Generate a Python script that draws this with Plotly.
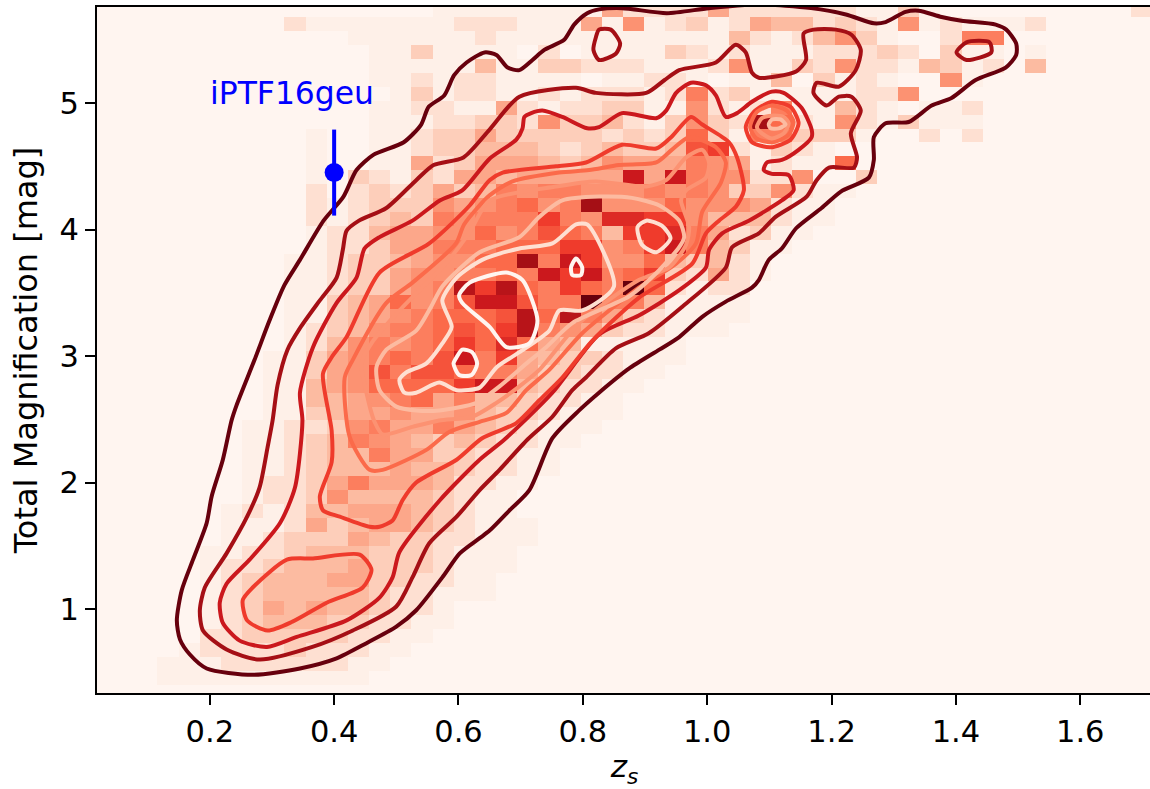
import plotly.graph_objects as go
import numpy as np

# 2-D histogram, one string per row from the top; one base-17 digit per cell
heat_rows = [
"0000000000 0000001111 1111522225 2222221131 0000000002",
"0000000002 1111111222 1115161231 2544232161 2111200000",
"0000000000 0011111121 1111111111 4212463100 2770000000",
"0000000000 0001131111 0201111321 2111222320 3110100000",
"0000000000 0001111141 1332221112 6113262214 3120400000",
"0000000000 0001121221 1110112210 1140312100 6100000000",
"0000000000 0000131221 1212221272 3111112260 0000000000",
"0000000000 0001122115 2122331162 1271142101 1200000000",
"0000000000 0001112233 2633421363 2e82162131 1100000000",
"0000000000 1001123353 3333232383 1773331002 0200000000",
"0000000000 1001123344 432343349a 2132100000 0000000000",
"0000000000 1001152355 5434655576 5121180000 0000000000",
"0000000000 1032132554 55555c5c76 6226003000 0000000000",
"0000000000 2023235347 6776667676 3362110000 0000000000",
"0000000000 2123336567 867e666866 6521100000 0000000000",
"0000000000 2123437677 7a76bbaa64 4421100000 0000000000",
"0000000000 1224556686 79874aab75 2311000000 0000000000",
"0000000000 1223557778 88aa67ac74 3110000000 0000000000",
"0000000001 1233456688 e7ca668434 2100000000 0000000000",
"0000000001 1233566778 7cac78a325 2100000000 0000000000",
"0000000001 123356 7dad 87a87g8212 2000000000 0000000000",
"0000000001 1345867 9cc 977g774111 1000000000 0000000000",
"0000000001 1345678889 d8d7532111 1000000000 0000000000",
"0000000001 2346778 98a d765322111 0000000000 0000000000",
"0000000001 2467678a8b 8541111100 0000000000 0000000000",
"0000000011 3567879c7a 5433211100 0000000000 0000000000",
"0000000011 3569799877 5332211000 0000000000 0000000000",
"0000000011 4568888acc 4322110000 0000000000 0000000000",
"0000000011 4456785744 3221100000 0000000000 0000000000",
"0000000011 3455655643 3211100000 0000000000 0000000000",
"0000000112 2367557543 2111000000 0000000000 0000000000",
"0000000112 3476543432 2110000000 0000000000 0000000000",
"0000000112 3447553322 1100000000 0000000000 0000000000",
"0000000112 3444544322 1100000000 0000000000 0000000000",
"0000000122 3575554221 1000000000 0000000000 0000000000",
"0000000122 3644443211 0000000000 0000000000 0000000000",
"0000001212 4455543211 0000000000 0000000000 0000000000",
"0000001112 5345543211 1000000000 0000000000 0000000000",
"0000001123 3354332211 1000000000 0000000000 0000000000",
"0000011223 4443332111 0000000000 0000000000 0000000000",
"0000012234 4453332111 0000000000 0000000000 0000000000",
"0000012344 4553322110 0000000000 0000000000 0000000000",
"0000012344 4443221110 0000000000 0000000000 0000000000",
"0000012354 5443221000 0000000000 0000000000 0000000000",
"0000012344 4332211000 0000000000 0000000000 0000000000",
"0000022333 3322110000 0000000000 0000000000 0000000000",
"0000122223 2221100000 0000000000 0000000000 0000000000",
"0001112222 2211000000 0000000000 0000000000 0000000000",
"0001111111 1110000000 0000000000 0000000000 0000000000",
"0000000000 0000000000 0000000000 0000000000 0000000000",
]
hist_x_left = 0.01378
hist_y_top = 5.787
hist_dx = 0.03403
hist_dy = 0.10988

reds = ["#fff5f0", "#fee0d2", "#fcbba1", "#fc9272", "#fb6a4a", "#ef3b2c", "#cb181d", "#a50f15", "#67000d"]
faint_stop = "#fef0e8"
level_colors = reds[::-1]

# Contours: (level index, z values, magnification values)
c1_z = [.269,.195,.168,.152,.147,.155,.173,.195,.203,.221,.235,.243,.272,.296,.320,.345,.383,.415,.436,.463,.512,.540,.552,.577,.593,.613,.642,.661,.679,.698,.719,.738,.770,.786,.807,.826,.863,.935,1.003,1.083,1.167,1.223,1.268,1.287,1.319,1.340,1.377,1.409,1.464,1.481,1.497,1.497,1.480,1.431,1.393,1.361,1.324,1.287,1.268,1.268,1.260,1.215,1.184,1.143,1.120,1.099,1.083,1.072,1.030,.992,.955,.923,.874,.826,.794,.751,.714,.682,.650,.634,.602,.574,.532,.500,.452,.404,.345,.269]
c1_m = [.48,.53,.64,.76,.91,1.15,1.39,1.68,1.89,2.18,2.49,2.61,2.97,3.28,3.56,3.76,4.07,4.26,4.47,4.59,4.69,4.83,4.97,5.06,5.22,5.32,5.40,5.38,5.28,5.26,5.34,5.42,5.50,5.62,5.71,5.74,5.75,5.71,5.75,5.78,5.75,5.70,5.63,5.64,5.72,5.73,5.68,5.65,5.62,5.58,5.47,5.38,5.28,5.18,5.04,4.98,4.85,4.84,4.73,4.55,4.41,4.30,4.17,4.01,3.85,3.76,3.60,3.54,3.43,3.31,3.15,3.05,2.90,2.71,2.57,2.35,1.94,1.78,1.62,1.56,1.44,1.25,.99,.86,.73,.61,.53,.48]

c2_z = [.280,.227,.189,.184,.192,.227,.260,.280,.293,.301,.309,.325,.345,.377,.404,.414,.420,.440,.484,.532,.560,.608,.650,.698,.789,.821,.902,.931,.955,1.014,1.046,1.062,1.072,1.083,1.143,1.159,1.155,1.171,1.207,1.232,1.247,1.239,1.212,1.176,1.171,1.192,1.212,1.232,1.247,1.231,1.241,1.236,1.196,1.176,1.160,1.110,1.083,1.040,1.030,.960,.906,.853,.805,.783,.751,.711,.666,.634,.597,.553,.526,.500,.430,.365,.280]
c2_m = [.60,.68,.83,.99,1.17,1.44,1.73,1.96,2.28,2.49,2.77,3.05,3.22,3.44,3.62,3.84,3.99,4.07,4.17,4.39,4.51,4.57,4.79,5.05,5.12,5.08,5.08,5.18,5.26,5.32,5.46,5.40,5.24,5.20,5.25,5.34,5.55,5.58,5.58,5.54,5.42,5.26,5.13,5.16,5.08,4.98,5.05,5.05,4.94,4.76,4.57,4.49,4.49,4.39,4.26,4.10,3.97,3.86,3.70,3.39,3.18,3.06,2.83,2.73,2.52,2.34,2.10,1.94,1.73,1.52,1.25,1.02,.83,.70,.60]
c2_loop_a_z = [.826,.845,.860,.853,.826,.817,.821,.826]
c2_loop_a_m = [5.58,5.58,5.47,5.39,5.34,5.42,5.52,5.58]
c2_loop_b_z = [1.417,1.454,1.457,1.417,1.401,1.417]
c2_loop_b_m = [5.48,5.48,5.40,5.34,5.40,5.48]

c3_z = [.292,.248,.221,.216,.227,.264,.313,.337,.349,.345,.366,.404,.436,.449,.473,.526,.570,.606,.650,.693,.703,.706,.717,.735,.767,.807,.826,.863,.918,.934,.950,.974,.998,1.014,1.030,1.048,1.072,1.104,1.123,1.152,1.168,1.168,1.147,1.120,1.096,1.091,1.104,1.131,1.139,1.120,1.067,1.024,1.003,.998,.955,.890,.826,.751,.674,.634,.570,.505,.494,.473,.420,.340,.292]
c3_m = [.70,.75,.89,1.05,1.20,1.39,1.68,1.96,2.49,2.71,3.07,3.42,3.62,3.85,3.94,4.07,4.23,4.31,4.56,4.71,4.80,4.89,4.92,4.94,4.89,4.80,4.81,4.92,4.88,4.94,5.08,5.16,5.14,5.06,4.89,4.92,5.01,5.09,5.08,4.96,4.79,4.73,4.63,4.55,4.53,4.47,4.44,4.43,4.31,4.23,4.07,3.97,3.84,3.70,3.52,3.32,3.17,2.71,2.34,2.18,1.86,1.45,1.25,1.09,.91,.78,.70]

c4_low_z = [.293,.260,.253,.269,.324,.366,.441,.460,.446,.388,.333,.293]
c4_low_m = [.83,.91,1.07,1.17,1.39,1.40,1.43,1.31,1.17,1.05,.90,.83]
c4_main_z = [.457,.409,.382,.377,.396,.396,.382,.396,.420,.473,.553,.618,.650,.671,.757,.805,.863,.918,.942,.974,.992,1.035,1.048,1.059,1.046,1.019,.998,.976,.890,.815,.767,.730,.693,.638,.597,.532,.510,.494,.473,.457]
c4_main_m = [1.65,1.73,1.78,1.89,2.16,2.41,2.86,2.99,3.15,3.66,3.89,4.19,4.39,4.45,4.50,4.53,4.67,4.64,4.73,4.89,4.83,4.69,4.57,4.31,4.18,4.07,3.97,3.73,3.46,3.12,2.83,2.65,2.47,2.35,2.18,2.00,1.86,1.70,1.65,1.65]
c4_ring_z = [1.062,1.072,1.102,1.134,1.147,1.134,1.104,1.075,1.062]
c4_ring_m = [4.81,4.69,4.65,4.71,4.84,4.97,5.01,4.93,4.81]

c5_main_z = [.425,.457,.478,.549,.585,.634,.677,.709,.746,.799,.890,.950,.982,.992,1.022,1.030,1.014,.971,.943,.918,.858,.810,.762,.687,.650,.609,.596,.526,.484,.430,.417,.425]
c5_main_m = [2.36,2.10,2.10,2.26,2.40,2.48,2.55,2.73,2.89,3.18,3.54,3.73,3.89,4.14,4.37,4.53,4.65,4.73,4.63,4.53,4.51,4.47,4.45,4.38,4.27,4.04,3.89,3.58,3.42,2.97,2.83,2.36]
c5_ring_z = [1.069,1.079,1.104,1.131,1.139,1.128,1.104,1.080,1.069]
c5_ring_m = [4.81,4.72,4.69,4.75,4.85,4.94,4.98,4.93,4.81]

c6_main_z = [.478,.526,.569,.622,.661,.698,.730,.794,.890,.939,.966,.971,.958,.966,.998,1.003,.992,.966,.934,.902,.821,.757,.650,.618,.581,.505,.460,.444,.452,.465,.478]
c6_main_m = [2.38,2.44,2.49,2.52,2.63,2.76,2.89,3.26,3.60,3.70,3.88,4.02,4.23,4.31,4.41,4.53,4.63,4.57,4.39,4.34,4.38,4.34,4.23,3.98,3.74,3.36,3.10,2.94,2.71,2.48,2.38]
c6_ring_z = [1.080,1.088,1.104,1.123,1.131,1.123,1.104,1.088,1.080]
c6_ring_m = [4.81,4.76,4.72,4.76,4.84,4.89,4.90,4.88,4.81]

c7_main_z = [.473,.500,.532,.569,.629,.666,.709,.741,.783,.874,.915,.955,.963,.955,.923,.879,.826,.767,.730,.698,.634,.574,.556,.532,.484,.468,.473]
c7_main_m = [2.73,2.60,2.57,2.57,2.63,2.76,2.94,3.07,3.26,3.47,3.64,3.86,3.94,4.07,4.19,4.25,4.26,4.23,4.10,3.94,3.82,3.55,3.39,3.20,3.05,2.91,2.73]
c7_ring_z = [1.099,1.104,1.118,1.126,1.115,1.102,1.099]
c7_ring_m = [4.83,4.87,4.87,4.83,4.80,4.80,4.83]

c8_main_z = [.505,.516,.548,.574,.589,.574,.597,.638,.698,.751,.789,.807,.850,.799,.762,.746,.698,.661,.634,.597,.569,.532,.513,.505]
c8_main_m = [2.81,2.87,2.94,3.10,3.23,3.44,3.62,3.76,3.85,3.89,4.04,4.04,3.55,3.36,3.36,3.20,3.03,2.91,2.75,2.73,2.79,2.71,2.71,2.81]
c8_loop_z = [.888,.902,.927,.941,.918,.895,.888]
c8_loop_m = [4.02,4.07,4.03,3.93,3.82,3.88,4.02]

c9_big_z = [.601,.618,.677,.703,.727,.714,.677,.650,.606,.601]
c9_big_m = [3.48,3.58,3.66,3.60,3.28,3.10,3.07,3.23,3.42,3.48]
c9_small_z = [.597,.606,.622,.630,.621,.601,.592,.597]
c9_small_m = [2.99,3.05,3.03,2.94,2.85,2.85,2.94,2.99]
c9_tiny_z = [.781,.789,.799,.797,.783,.781]
c9_tiny_m = [3.70,3.77,3.70,3.64,3.64,3.70]

contours = [
    (0, c1_z, c1_m),
    (1, c2_z, c2_m), (1, c2_loop_a_z, c2_loop_a_m), (1, c2_loop_b_z, c2_loop_b_m),
    (2, c3_z, c3_m),
    (3, c4_low_z, c4_low_m), (3, c4_main_z, c4_main_m), (3, c4_ring_z, c4_ring_m),
    (4, c5_main_z, c5_main_m), (4, c5_ring_z, c5_ring_m),
    (5, c6_main_z, c6_main_m), (5, c6_ring_z, c6_ring_m),
    (6, c7_main_z, c7_main_m), (6, c7_ring_z, c7_ring_m),
    (7, c8_main_z, c8_main_m), (7, c8_loop_z, c8_loop_m),
    (8, c9_big_z, c9_big_m), (8, c9_small_z, c9_small_m), (8, c9_tiny_z, c9_tiny_m),
]

sn_z = [0.4]
sn_mag = [4.45]
sn_err = [0.34]
sn_label = "iPTF16geu"

x_ticks = [0.2, 0.4, 0.6, 0.8, 1.0, 1.2, 1.4, 1.6]
y_ticks = [1, 2, 3, 4, 5]

grid = np.array([[int(c, 17) for c in r.replace(" ", "").ljust(50, "0")[:50]] for r in heat_rows])[::-1]
n_y, n_x = grid.shape
xc = hist_x_left + hist_dx * (np.arange(n_x) + 0.5)
yc = hist_y_top - hist_dy * (np.arange(n_y) + 0.5)
yc = yc[::-1]

scale = [[0, reds[0]], [1 / 16, faint_stop]] + [[i / 8, c] for i, c in enumerate(reds) if i > 0]

fig = go.Figure()
fig.add_trace(go.Heatmap(
    x=xc, y=yc, z=grid, zmin=0, zmax=16, showscale=False, hoverinfo="skip", colorscale=scale,
))
for lvl, zs, ms in contours:
    fig.add_trace(go.Scatter(
        x=zs, y=ms, mode="lines", hoverinfo="skip", showlegend=False,
        line=dict(color=level_colors[lvl], width=4, shape="spline", smoothing=0.7),
    ))
fig.add_trace(go.Scatter(
    x=sn_z, y=sn_mag, mode="markers", showlegend=False,
    marker=dict(color="#0000ff", size=19),
    error_y=dict(type="data", array=sn_err, color="#0000ff", thickness=4, width=0),
))
fig.add_annotation(x=0.2, y=5.08, text=sn_label, showarrow=False, xanchor="left", yanchor="middle",
                   xshift=-2, font=dict(color="#0000ff", size=31.4, family="DejaVu Sans"))

tick_font = dict(size=30.5, color="black", family="DejaVu Sans")
fig.update_layout(
    width=1154, height=789, margin=dict(l=97, r=0, t=7, b=96),
    paper_bgcolor="white", plot_bgcolor="white", showlegend=False,
    font=dict(family="DejaVu Sans"),
    xaxis=dict(range=[0.0186, 1.7154], tickmode="array", tickvals=x_ticks, ticktext=[f"{v:.1f}" for v in x_ticks],
               ticks="outside", ticklen=10, tickwidth=1.5, tickcolor="black", tickfont=tick_font,
               showline=True, linewidth=2, linecolor="black", mirror=True, showgrid=False, zeroline=False,
               title=dict(text="<i>z<sub>s</sub></i>", font=dict(size=31, color="black", family="DejaVu Sans"), standoff=9)),
    yaxis=dict(range=[0.336, 5.759], tickmode="array", tickvals=y_ticks, ticktext=[str(v) for v in y_ticks],
               ticks="outside", ticklen=10, tickwidth=1.5, tickcolor="black", tickfont=tick_font,
               showline=True, linewidth=2, linecolor="black", mirror=True, showgrid=False, zeroline=False,
               title=dict(text="Total Magnification [mag]", font=dict(size=32, color="black", family="DejaVu Sans"), standoff=12)),
)
fig.write_html("out.html", config=dict(displayModeBar=False),
               post_script="document.body.style.margin='0';document.body.style.overflow='hidden';")
